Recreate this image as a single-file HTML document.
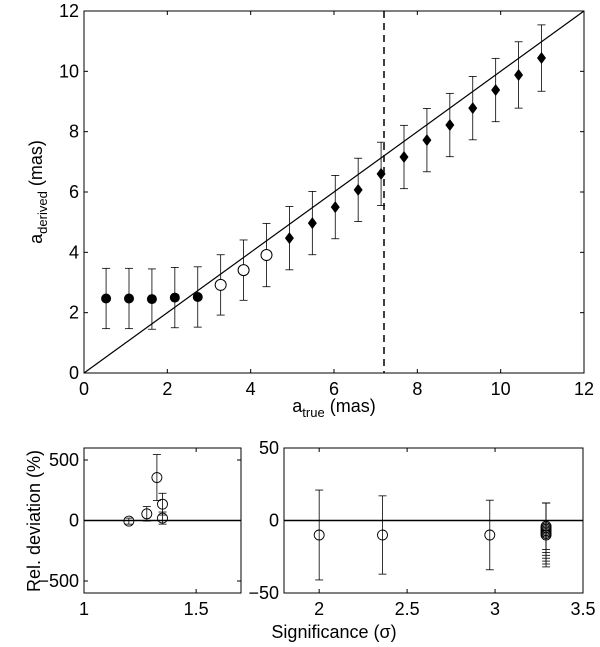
<!DOCTYPE html>
<html><head><meta charset="utf-8"><style>
body{margin:0;background:#fff}
svg{display:block;font-family:"Liberation Sans",Arial,sans-serif}
</style></head><body>
<svg id="c" width="600" height="647" xmlns="http://www.w3.org/2000/svg"></svg>
<script>
// main panel data
const mainX=[0.53,1.08,1.63,2.18,2.73,3.28,3.83,4.38,4.93,5.48,6.03,6.58,7.13,7.68,8.23,8.78,9.33,9.88,10.43,10.98];
const mainY=[2.47,2.47,2.45,2.5,2.52,2.92,3.41,3.91,4.47,4.97,5.5,6.07,6.6,7.16,7.72,8.22,8.78,9.38,9.88,10.44];
const mainErr=[1.0,1.0,1.0,1.0,1.0,1.0,1.0,1.05,1.05,1.05,1.05,1.05,1.05,1.05,1.05,1.05,1.05,1.05,1.1,1.1];
const mainMarker=["fc","fc","fc","fc","fc","oc","oc","oc","d","d","d","d","d","d","d","d","d","d","d","d"];
const mainTicks=[0,2,4,6,8,10,12];
const cutoff=7.2;
// bottom-left data
const blX=[1.20,1.28,1.325,1.35,1.35];
const blY=[-5,55,355,135,20];
const blErr=[25,60,190,90,50];
const blXTicks=[1,1.5];
const blYTicks=[-500,0,500];
// bottom-right data
const brX=[2.0,2.36,2.97,3.29,3.29,3.29,3.29,3.29,3.29,3.29];
const brY=[-10,-10,-10,-4,-5,-6,-7,-8,-9,-10];
const brErr=[31,27,24,16,17,18,19,20,21,22];
const brXTicks=[2,2.5,3,3.5];
const brYTicks=[-50,0,50];

const svg=document.getElementById('c');
const NS='http://www.w3.org/2000/svg';
function mk(tag,attrs,name,parent){const e=document.createElementNS(NS,tag);for(const k in attrs)e.setAttribute(k,attrs[k]);


(parent||svg).appendChild(e);return e;}
function txt(x,y,s,name,anchor,size,rot){const t=mk('text',{x:x,y:y,'text-anchor':anchor||'middle','font-size':size||18,fill:'#000'},name);if(rot)t.setAttribute('transform','rotate(-90 '+x+' '+y+')');t.textContent=s;return t;}
function lin(d0,d1,p0,p1){return v=>p0+(v-d0)*(p1-p0)/(d1-d0);}

function panel(L,T,R,B,xs,ys,xt,yt,name){
  const g=mk('g',{},name);
  mk('rect',{x:L,y:T,width:R-L,height:B-T,fill:'none',stroke:'#000','stroke-width':1},name+'-frame',g);
  xt.forEach(v=>{const x=xs(v);mk('line',{x1:x,x2:x,y1:B,y2:B-4,stroke:'#000'},'x-tick',g);mk('line',{x1:x,x2:x,y1:T,y2:T+4,stroke:'#000'},'x-tick-top',g);
    txt(x,B+22,String(v),'x-tick-label');});
  yt.forEach(v=>{const y=ys(v);mk('line',{x1:L,x2:L+4,y1:y,y2:y,stroke:'#000'},'y-tick',g);mk('line',{x1:R,x2:R-4,y1:y,y2:y,stroke:'#000'},'y-tick-right',g);
    txt(L-5,y+6,(v<0?'\u2212'+(-v):String(v)),'y-tick-label','end');});
  return g;
}
function errbar(g,x,y1,y2,cw){mk('line',{x1:x,x2:x,y1:y1,y2:y2,stroke:'#000','stroke-width':0.8},'error-bar',g);
  mk('line',{x1:x-cw,x2:x+cw,y1:y1,y2:y1,stroke:'#000','stroke-width':0.8},'error-cap',g);
  mk('line',{x1:x-cw,x2:x+cw,y1:y2,y2:y2,stroke:'#000','stroke-width':0.8},'error-cap',g);}

// main
{const L=84,T=11,R=584,B=373;const xs=lin(0,12,L,R),ys=lin(0,12,B,T);
 const g=panel(L,T,R,B,xs,ys,mainTicks,mainTicks,'main-panel');
 mk('line',{x1:xs(0),y1:ys(0),x2:xs(12),y2:ys(12),stroke:'#000','stroke-width':1.2},'one-to-one-line',g);
 mk('line',{x1:xs(cutoff),x2:xs(cutoff),y1:T,y2:B,stroke:'#000','stroke-width':1.5,'stroke-dasharray':'7,5'},'cutoff-line',g);
 mainX.forEach((v,i)=>{const x=xs(v),y=ys(mainY[i]);errbar(g,x,ys(mainY[i]+mainErr[i]),ys(mainY[i]-mainErr[i]),4);
   const m=mainMarker[i];
   if(m==='fc')mk('circle',{cx:x,cy:y,r:5,fill:'#000'},'filled-point',g);
   else if(m==='oc')mk('circle',{cx:x,cy:y,r:5.5,fill:'#fff',stroke:'#000'},'open-point',g);
   else mk('polygon',{points:`${x},${y-6} ${x+4.5},${y} ${x},${y+6} ${x-4.5},${y}`,fill:'#000'},'diamond-point',g);});
 const t=mk('text',{x:334,y:412,'text-anchor':'middle','font-size':18},'x-axis-title');
 t.innerHTML='a<tspan font-size="13" dy="5">true</tspan><tspan dy="-5"> (mas)</tspan>';
 const t2=mk('text',{x:42,y:192,'text-anchor':'middle','font-size':18,transform:'rotate(-90 42 192)'},'y-axis-title');
 t2.innerHTML='a<tspan font-size="13" dy="5">derived</tspan><tspan dy="-5"> (mas)</tspan>';
}
// bottom left
{const L=84,T=448,R=241,B=593;const xs=lin(1,1.7,L,R),ys=lin(0,500,520.5,460);
 const g=panel(L,T,R,B,xs,ys,blXTicks,blYTicks,'bottom-left-panel');
 mk('line',{x1:L,x2:R,y1:ys(0),y2:ys(0),stroke:'#000','stroke-width':1.5},'zero-line',g);
 blX.forEach((v,i)=>{const x=xs(v);errbar(g,x,ys(blY[i]+blErr[i]),ys(blY[i]-blErr[i]),4);
   mk('circle',{cx:x,cy:ys(blY[i]),r:5,fill:'none',stroke:'#000','stroke-width':0.9},'open-point',g);});
}
// bottom right
{const L=284,T=448,R=583,B=593;const xs=lin(1.8,3.5,L,R),ys=lin(-50,50,B,T);
 const g=panel(L,T,R,B,xs,ys,brXTicks,brYTicks,'bottom-right-panel');
 mk('line',{x1:L,x2:R,y1:ys(0),y2:ys(0),stroke:'#000','stroke-width':1.5},'zero-line',g);
 brX.forEach((v,i)=>{const x=xs(v);errbar(g,x,ys(brY[i]+brErr[i]),ys(brY[i]-brErr[i]),4);
   mk('circle',{cx:x,cy:ys(brY[i]),r:5,fill:'none',stroke:'#000','stroke-width':0.9},'open-point',g);});
}
txt(40,521,'Rel. deviation (%)','y-axis-title-bottom','middle',18,true);
txt(334,638,'Significance (\u03C3)','x-axis-title-bottom','middle',18);
</script>
</body></html>
